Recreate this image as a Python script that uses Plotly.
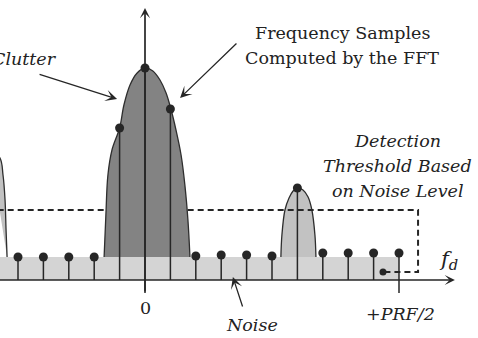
import plotly.graph_objects as go

# Doppler frequency bins (0 = zero Doppler, 10 = +PRF/2) and sampled amplitudes
bins = [-5, -4, -3, -2, -1, 0, 1, 2, 3, 4, 5, 6, 7, 8, 9, 10]
samples = [2.3, 2.3, 2.3, 2.3, 15.2, 21.2, 17.1, 2.4, 2.5, 2.5, 2.4, 9.2, 2.7, 2.7, 2.7, 2.7]

noise_level = 2.3
noise_end = 10

# Main-lobe clutter spectrum outline
clutter_f = [-1.61, -1.54, -1.46, -1.30, -1.0, -0.83, -0.59, -0.31, 0.0,
             0.31, 0.59, 0.83, 1.02, 1.22, 1.42, 1.57, 1.69, 1.77]
clutter_a = [2.3, 6.5, 10.5, 13.0, 15.2, 17.5, 19.5, 20.7, 21.2,
             20.9, 20.0, 18.7, 17.1, 15.0, 12.5, 9.5, 6.0, 2.3]

# Target return outline
target_f = [5.35, 5.39, 5.51, 5.67, 5.83, 6.0, 6.22, 6.42, 6.57, 6.69, 6.73]
target_a = [2.3, 4.5, 7.0, 8.2, 8.9, 9.2, 9.0, 8.3, 7.0, 4.5, 2.3]

# Edge of the neighbouring spectral repetition
edge_f = [-6.10, -5.71, -5.59, -5.51, -5.47, -5.43]
edge_a = [13.0, 12.2, 10.5, 8.0, 5.0, 2.3]

# Detection threshold path
thr_f = [-5.8, 10.75, 10.75, 9.37]
thr_a = [7.0, 7.0, 0.8, 0.8]

X0, X1 = -145 / 25.4, 333 / 25.4
Y0, Y1 = -5.8, 28.0

OUT = "#2e2e2e"
DARK = "#262626"
TXT = "#222222"
FONT = "DejaVu Serif"

fig = go.Figure()

# noise floor band
fig.add_trace(go.Scatter(
    x=[X0 - 0.5, noise_end, noise_end, X0 - 0.5], y=[0, 0, noise_level, noise_level],
    fill="toself", fillcolor="#d4d4d4", line=dict(width=0), mode="lines",
    hoverinfo="skip"))

# light humps
for fx, fa in ((edge_f, edge_a), (target_f, target_a)):
    fig.add_trace(go.Scatter(
        x=fx, y=fa, mode="lines", fill="toself", fillcolor="#c2c2c2",
        line=dict(color=OUT, width=1.3, shape="spline"), hoverinfo="skip"))

# threshold
fig.add_trace(go.Scatter(
    x=thr_f, y=thr_a, mode="lines",
    line=dict(color=DARK, width=2, dash="6px,4px"), hoverinfo="skip"))
fig.add_trace(go.Scatter(
    x=[thr_f[-1]], y=[thr_a[-1]], mode="markers",
    marker=dict(size=7, color=DARK), hoverinfo="skip"))

# clutter hump
fig.add_trace(go.Scatter(
    x=clutter_f, y=clutter_a, mode="lines", fill="toself", fillcolor="#838383",
    line=dict(color=OUT, width=1.3, shape="spline"), hoverinfo="skip"))

# stems
sx, sy = [], []
for b, v in zip(bins, samples):
    sx += [b, b, None]
    sy += [0, v, None]
fig.add_trace(go.Scatter(x=sx, y=sy, mode="lines",
                         line=dict(color=DARK, width=1.5), hoverinfo="skip"))
fig.add_trace(go.Scatter(x=bins, y=samples, mode="markers",
                         marker=dict(size=9, color=DARK), hoverinfo="skip"))

# tick marks at 0 and +PRF/2
fig.add_trace(go.Scatter(x=[0, 0, None, 10, 10], y=[0, -1.3, None, 0, -1.3],
                         mode="lines", line=dict(color=DARK, width=1.5),
                         hoverinfo="skip"))

def arrow(x, y, ax, ay, w, s):
    fig.add_annotation(x=x, y=y, ax=ax, ay=ay, xref="x", yref="y",
                       axref="x", ayref="y", text="", showarrow=True,
                       arrowhead=3, arrowwidth=w, arrowsize=s,
                       arrowcolor=DARK, standoff=0)

# axes
arrow(12.2, 0, X0 - 0.5, 0, 1.7, 1.0)
arrow(0, 27.2, 0, -1.3, 1.7, 1.0)
# pointers
arrow(-1.10, 18.1, -4.21, 20.6, 1.3, 1.5)
arrow(1.38, 18.2, 3.66, 23.8, 1.3, 1.5)
arrow(3.46, 0.3, 3.86, -2.8, 1.3, 1.5)

def label(txt, x, y, italic=False, xanchor="center", size=17.5):
    t = f"<i>{txt}</i>" if italic else txt
    fig.add_annotation(x=x, y=y, xref="x", yref="y", text=t, showarrow=False,
                       xanchor=xanchor, yanchor="middle",
                       font=dict(family=FONT, size=size, color=TXT))

label("Clutter", -3.40, 22.1, italic=True, xanchor="right")
label("Frequency Samples", 7.76, 24.7)
label("Computed by the FFT", 7.76, 22.2)
label("Detection", 9.96, 13.9, italic=True)
label("Threshold Based", 9.96, 11.4, italic=True)
label("on Noise Level", 9.96, 8.9, italic=True)
label("<i>f</i><sub><i>d</i></sub>", 11.95, 2.0, size=21)
label("0", 0, -2.8)
label("+PRF/2", 10.04, -3.4, italic=True)
label("Noise", 4.21, -4.5, italic=True)

fig.update_layout(
    width=478, height=338, margin=dict(l=0, r=0, t=0, b=0),
    paper_bgcolor="white", plot_bgcolor="white", showlegend=False,
    xaxis=dict(range=[X0, X1], visible=False, fixedrange=True),
    yaxis=dict(range=[Y0, Y1], visible=False, fixedrange=True),
)

fig.write_html("out.html")
